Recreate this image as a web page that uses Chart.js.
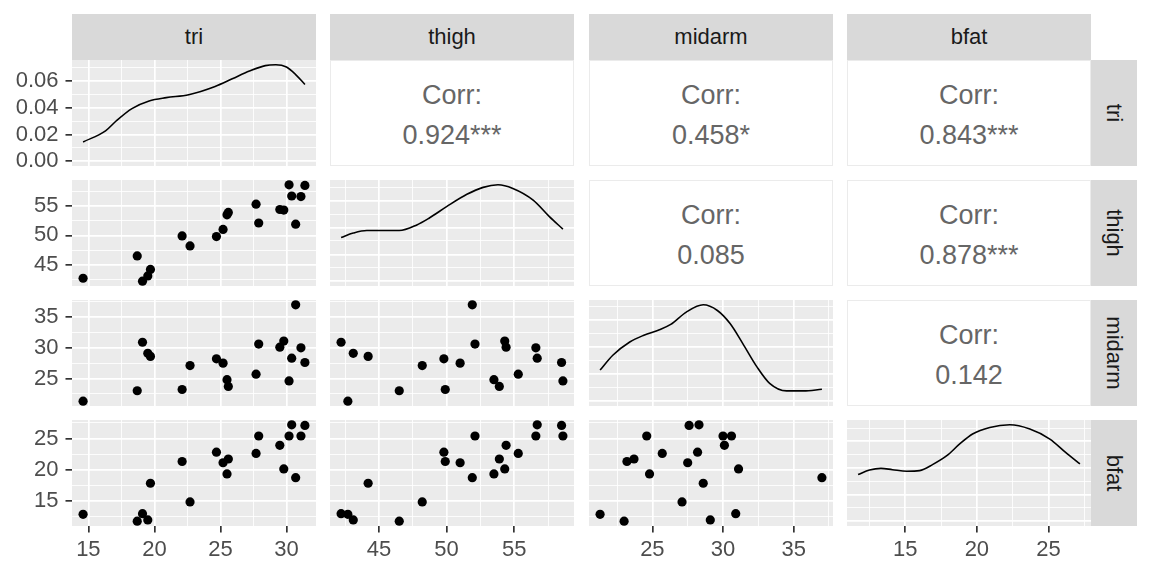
<!DOCTYPE html>
<html>
<head>
<meta charset="utf-8">
<script src="https://cdn.jsdelivr.net/npm/chart.js@4.4.1/dist/chart.umd.min.js"></script>
<style>
  body { margin: 0; background: #fff; width: 1152px; height: 576px; overflow: hidden; position: relative;
         font-family: "Liberation Sans", Arial, sans-serif; }
  canvas { position: absolute; }
  .strip { position: absolute; background: #D9D9D9; color: #1A1A1A; font-size: 22px;
           display: flex; align-items: center; justify-content: center; }
  .strip.side span { display: inline-block; transform: rotate(90deg); white-space: nowrap; }
  .corr { position: absolute; background: #fff; border: 1.5px solid #EBEBEB; box-sizing: border-box;
          color: #666666; font-size: 27px; }
  .corr div { position: absolute; left: 0; right: 0; text-align: center; line-height: 30px; height: 30px; }
</style>
</head>
<body>
<script>
// body fat data, one value per subject
const varNames = ['tri', 'thigh', 'midarm', 'bfat'];
const tri    = [19.5, 24.7, 30.7, 29.8, 19.1, 25.6, 31.4, 27.9, 22.1, 25.5, 31.1, 30.4, 18.7, 19.7, 14.6, 29.5, 27.7, 30.2, 22.7, 25.2];
const thigh  = [43.1, 49.8, 51.9, 54.3, 42.2, 53.9, 58.5, 52.1, 49.9, 53.5, 56.6, 56.7, 46.5, 44.2, 42.7, 54.4, 55.3, 58.6, 48.2, 51.0];
const midarm = [29.1, 28.2, 37.0, 31.1, 30.9, 23.7, 27.6, 30.6, 23.2, 24.8, 30.0, 28.3, 23.0, 28.6, 21.3, 30.1, 25.7, 24.6, 27.1, 27.5];
const bfat   = [11.9, 22.8, 18.7, 20.1, 12.9, 21.7, 27.1, 25.4, 21.3, 19.3, 25.4, 27.2, 11.7, 17.8, 12.8, 23.9, 22.6, 25.4, 14.8, 21.1];

// density curves on the diagonal
const triDensX    = [14.6, 16.3, 17.1, 18.3, 19.6, 20.9, 22.6, 24.6, 25.9, 27.2, 28.4, 29.2, 30.0, 30.7, 31.4];
const triDensY    = [0.0144, 0.0227, 0.0301, 0.0394, 0.0451, 0.0476, 0.0498, 0.0560, 0.0617, 0.0675, 0.0716, 0.0722, 0.0705, 0.0649, 0.0575];
const thighDensX  = [42.2, 43.1, 44.1, 45.5, 46.5, 47.8, 48.7, 50.0, 51.5, 52.7, 53.8, 54.9, 56.4, 57.6, 58.6];
const thighDensY  = [0.0326, 0.0359, 0.0378, 0.0378, 0.0378, 0.0420, 0.0470, 0.0556, 0.0648, 0.0700, 0.0719, 0.0692, 0.0605, 0.0482, 0.0388];
const midarmDensX = [21.3, 22.2, 23.4, 24.4, 25.5, 26.3, 27.4, 28.6, 29.6, 30.5, 31.4, 32.4, 33.3, 34.5, 35.7, 37.0];
const midarmDensY = [0.0230, 0.0340, 0.0438, 0.0488, 0.0529, 0.0568, 0.0659, 0.0713, 0.0671, 0.0574, 0.0426, 0.0254, 0.0132, 0.0076, 0.0076, 0.0088];
const bfatDensX   = [11.7, 12.5, 13.3, 14.1, 15.1, 16.0, 16.9, 17.9, 18.8, 19.7, 20.9, 22.3, 23.7, 25.1, 26.2, 27.2];
const bfatDensY   = [0.0350, 0.0385, 0.0397, 0.0387, 0.0375, 0.0380, 0.0425, 0.0492, 0.0580, 0.0655, 0.0704, 0.0724, 0.0692, 0.0617, 0.0517, 0.0430];

// tick labels
const triBreaks    = [15, 20, 25, 30];
const thighBreaks  = [45, 50, 55];
const midarmBreaks = [25, 30, 35];
const bfatBreaks   = [15, 20, 25];
const densBreaks   = [0, 0.02, 0.04, 0.06];

// upper triangle correlation labels
const corrPairs  = [[0, 1], [0, 2], [0, 3], [1, 2], [1, 3], [2, 3]];
const corrLabels = ['0.924***', '0.458*', '0.843***', '0.085', '0.878***', '0.142'];

const values   = [tri, thigh, midarm, bfat];
const breaks   = [triBreaks, thighBreaks, midarmBreaks, bfatBreaks];
const densX    = [triDensX, thighDensX, midarmDensX, bfatDensX];
const densY    = [triDensY, thighDensY, midarmDensY, bfatDensY];

// layout
const colLeft = [72, 330, 589, 847];
const rowTop = [60, 180, 300, 420];
const PW = 244, PH = 106;
const AXIS_W = 72, AXIS_H = 50;
const EDGE = 10; // spare room so end labels of the left axis are not cut
const FONT = '"Liberation Sans", Arial, sans-serif';

function limits(arr) {
  const lo = Math.min(...arr), hi = Math.max(...arr), e = (hi - lo) * 0.05;
  return [lo - e, hi + e];
}

function withMinor(br, lim) {
  const step = br[1] - br[0];
  const out = [];
  for (let v = br[0] - step / 2; v <= br[br.length - 1] + step / 2 + 1e-9; v += step / 2) {
    if (v >= lim[0] - 1e-9 && v <= lim[1] + 1e-9) out.push(+v.toFixed(6));
  }
  return out;
}

const isMajor = (v, br) => br.some(b => Math.abs(b - v) < 1e-9);

function axisOpts(lim, br, show, pos, fmt) {
  const tickVals = withMinor(br, lim);
  return {
    type: 'linear',
    position: pos,
    min: lim[0],
    max: lim[1],
    afterBuildTicks: s => { s.ticks = tickVals.map(v => ({ value: v })); },
    afterFit: s => {
      if (pos === 'left') s.width = show ? AXIS_W : 0;
      else s.height = show ? AXIS_H : 0;
      // keep the panel exactly where the layout puts it
      s.paddingTop = 0; s.paddingBottom = 0; s.paddingLeft = 0; s.paddingRight = 0;
    },
    border: { display: false },
    grid: {
      color: '#FFFFFF',
      lineWidth: c => (c.tick && isMajor(c.tick.value, br)) ? 1.7 : 0.85,
      drawTicks: show,
      tickLength: 6.5,
      tickWidth: 1.7,
      tickColor: c => (c.tick && isMajor(c.tick.value, br)) ? '#333333' : 'rgba(0,0,0,0)'
    },
    ticks: {
      display: show,
      autoSkip: false,
      maxRotation: 0,
      padding: pos === 'left' ? 7 : 4,
      color: '#4D4D4D',
      font: { family: FONT, size: 22 },
      callback: v => isMajor(v, br) ? fmt(v) : ''
    }
  };
}

const panelBg = {
  id: 'panelBg',
  beforeDraw(chart) {
    const { ctx, chartArea: a } = chart;
    ctx.save();
    ctx.fillStyle = '#EBEBEB';
    ctx.fillRect(a.left, a.top, a.width, a.height);
    ctx.restore();
  }
};

function addDiv(cls, left, top, w, h, html) {
  const d = document.createElement('div');
  d.className = cls;
  d.style.left = left + 'px';
  d.style.top = top + 'px';
  d.style.width = w + 'px';
  d.style.height = h + 'px';
  d.innerHTML = html;
  document.body.appendChild(d);
  return d;
}

// strips
varNames.forEach((name, i) => {
  addDiv('strip', colLeft[i], 14, PW, 46, name);
  addDiv('strip side', colLeft[3] + PW, rowTop[i], 46, PH, '<span>' + name + '</span>');
});

// correlation panels
corrPairs.forEach(([r, c], k) => {
  addDiv('corr', colLeft[c], rowTop[r], PW, PH,
    `<div style="top:${PH / 2 - 19.5 - 15}px">Corr:</div>` +
    `<div style="top:${PH / 2 + 20.5 - 15}px">${corrLabels[k]}</div>`);
});

const intFmt = v => String(v);
const densFmt = v => v.toFixed(2);

for (let r = 0; r < 4; r++) {
  for (let c = 0; c <= r; c++) {
    const showY = c === 0, showX = r === 3;
    const padTop = showY ? EDGE : 0;
    const padBottom = (showY && !showX) ? EDGE : 0;
    const cv = document.createElement('canvas');
    const w = PW + (showY ? AXIS_W : 0);
    const h = PH + (showX ? AXIS_H : 0) + padTop + padBottom;
    cv.width = w; cv.height = h;
    cv.style.width = w + 'px'; cv.style.height = h + 'px';
    cv.style.left = (colLeft[c] - (showY ? AXIS_W : 0)) + 'px';
    cv.style.top = (rowTop[r] - padTop) + 'px';
    document.body.appendChild(cv);

    const xLim = limits(values[c]);
    let dataset, yAxis;
    if (r === c) {
      const ys = densY[r];
      const m = Math.max(...ys);
      dataset = {
        type: 'line',
        data: densX[r].map((x, i) => ({ x, y: ys[i] })),
        borderColor: '#000000',
        borderWidth: 1.6,
        pointRadius: 0,
        fill: false,
        cubicInterpolationMode: 'monotone'
      };
      yAxis = axisOpts([-0.05 * m, 1.05 * m], densBreaks, showY, 'left', densFmt);
    } else {
      dataset = {
        type: 'scatter',
        data: values[c].map((x, i) => ({ x, y: values[r][i] })),
        backgroundColor: '#000000',
        borderWidth: 0,
        pointRadius: 4.6
      };
      yAxis = axisOpts(limits(values[r]), breaks[r], showY, 'left', intFmt);
    }

    new Chart(cv, {
      type: 'scatter',
      data: { datasets: [dataset] },
      options: {
        responsive: false,
        animation: false,
        layout: { padding: { top: padTop, bottom: padBottom, left: 0, right: 0 }, autoPadding: false },
        plugins: { legend: { display: false }, tooltip: { enabled: false } },
        scales: {
          x: axisOpts(xLim, breaks[c], showX, 'bottom', intFmt),
          y: yAxis
        }
      },
      plugins: [panelBg]
    });
  }
}
</script>
</body>
</html>
